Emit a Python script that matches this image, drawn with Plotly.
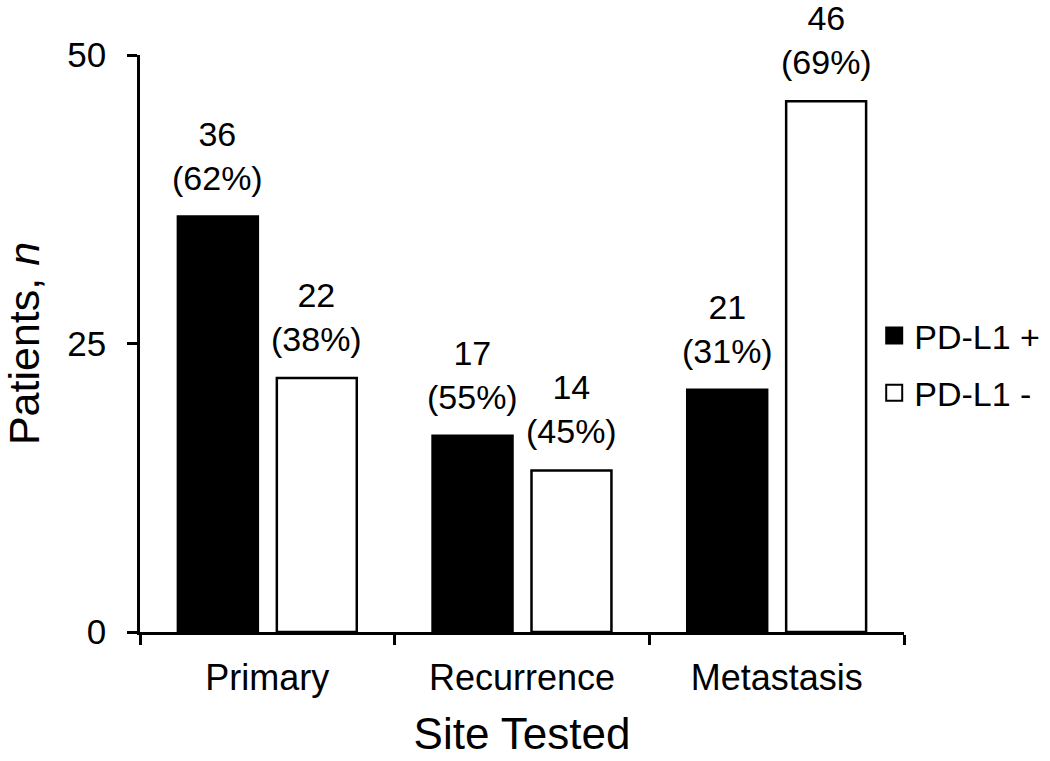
import plotly.graph_objects as go

sites = ["Primary", "Recurrence", "Metastasis"]
pos_counts = [36, 17, 21]
neg_counts = [22, 14, 46]
series_names = ["PD-L1 +", "PD-L1 -"]
y_ticks = [0, 25, 50]

FONT = "Arial, Liberation Sans, sans-serif"

def pct(a, b):
    return round(100 * a / (a + b))

pos_pct = [pct(p, n) for p, n in zip(pos_counts, neg_counts)]
neg_pct = [pct(n, p) for p, n in zip(pos_counts, neg_counts)]

fills = ["black", "white"]

fig = go.Figure()
for name, vals, fill in zip(series_names, (pos_counts, neg_counts), fills):
    fig.add_trace(go.Bar(
        x=sites, y=vals, name=name, legendgroup=name, showlegend=False,
        marker=dict(color=fill, line=dict(color="black", width=2.5)),
    ))
    # legend entry with a larger square swatch
    fig.add_trace(go.Scatter(
        x=[None], y=[None], mode="markers", name=name, legendgroup=name,
        marker=dict(symbol="square", size=16, color=fill, line=dict(color="black", width=2)),
    ))

# value labels above bars
slot_shift = 49.5
for i, s in enumerate(sites):
    for val, pc, sh in ((pos_counts[i], pos_pct[i], -slot_shift), (neg_counts[i], neg_pct[i], slot_shift)):
        fig.add_annotation(
            x=s, y=val, xref="x", yref="y",
            text=f"{val}<br>({pc}%)", showarrow=False,
            xanchor="center", yanchor="bottom", xshift=sh, yshift=18,
            font=dict(family=FONT, size=34, color="black"),
        )

fig.update_layout(
    width=1050, height=761,
    margin=dict(l=140, r=146, t=55, b=129, autoexpand=False),
    paper_bgcolor="white", plot_bgcolor="white",
    barmode="group", bargap=0.223, bargroupgap=0.192,
    font=dict(family=FONT, size=34, color="black"),
    showlegend=True,
    legend=dict(
        x=0.961, y=0.4636, xanchor="left", yanchor="middle",
        font=dict(family=FONT, size=34, color="black"),
        bgcolor="rgba(0,0,0,0)", borderwidth=0, itemsizing="trace",
    ),
    xaxis=dict(
        showline=True, linecolor="black", linewidth=2.5,
        ticks="outside", ticklen=10, tickwidth=2.5, tickcolor="black",
        tickson="boundaries", showgrid=False, zeroline=False,
        tickfont=dict(family=FONT, size=36, color="black"),
        ticklabelstandoff=12,
        title=dict(text="Site Tested", font=dict(family=FONT, size=44, color="black"), standoff=22),
    ),
    yaxis=dict(
        range=[0, 50], tickvals=y_ticks,
        showline=True, linecolor="black", linewidth=2.5,
        ticks="outside", ticklen=10, tickwidth=2.5, tickcolor="black",
        showgrid=False, zeroline=False,
        tickfont=dict(family=FONT, size=35, color="black"),
        ticklabelstandoff=14,
        title=dict(text="Patients, <i>n</i>", font=dict(family=FONT, size=43, color="black"), standoff=24),
    ),
)
fig.update_traces(cliponaxis=False, selector=dict(type="bar"))

fig.write_html(
    "out.html",
    config={"displayModeBar": False},
    post_script="document.body.style.margin='0';document.body.style.overflow='hidden';",
)
